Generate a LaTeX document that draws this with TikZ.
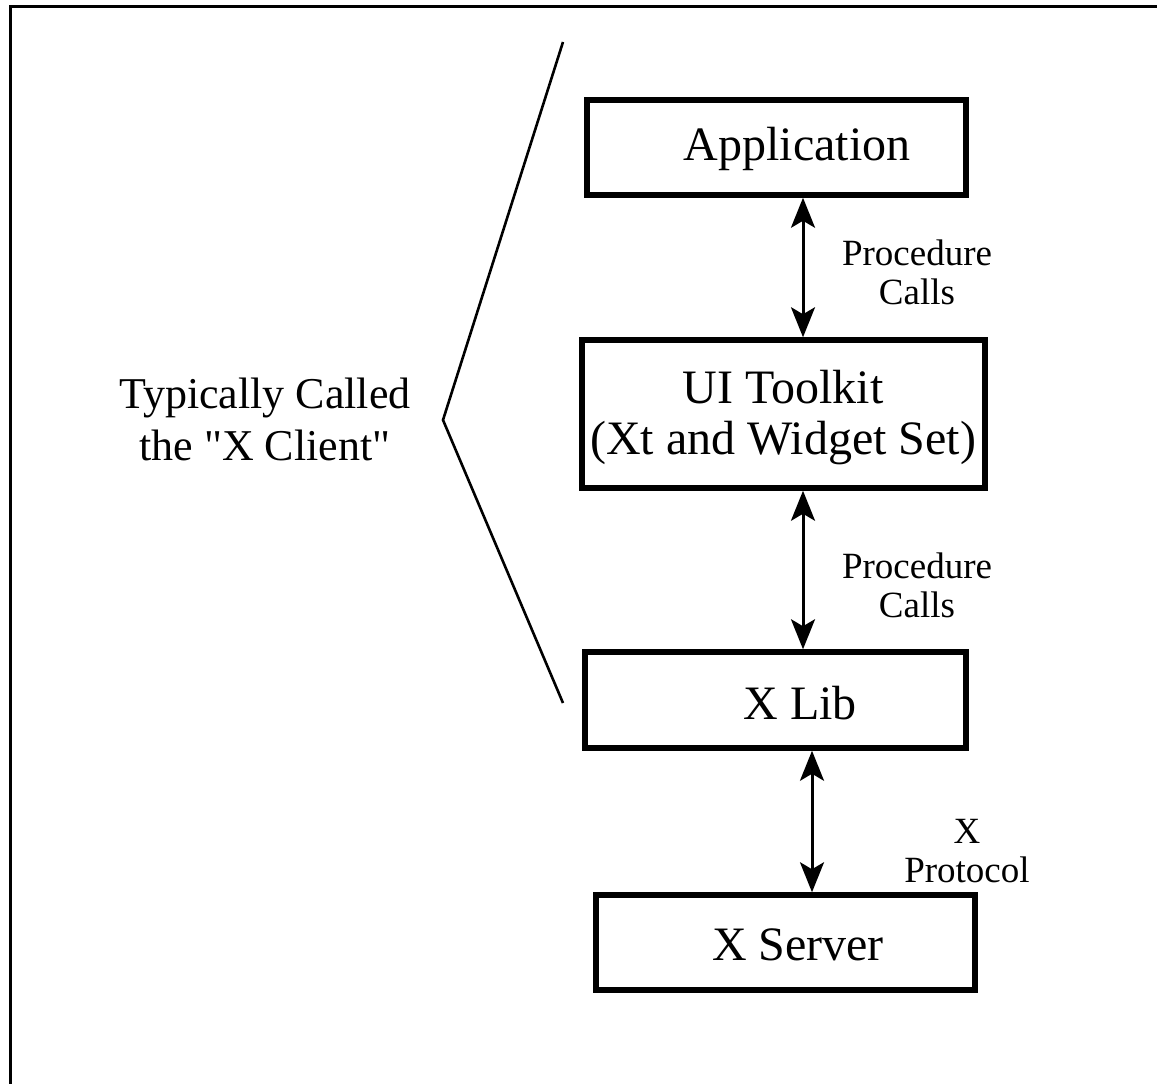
\documentclass[tikz,border=0pt]{standalone}
\usepackage{fontspec}
\setmainfont{Liberation Serif}[Ligatures=TeXOff]
\usetikzlibrary{arrows.meta}

\begin{document}
\begin{tikzpicture}[x=1pt,y=-1pt,
  layer/.style={draw, line width=5.5pt, inner sep=0pt},
  layertext/.style={align=center, inner sep=0pt, font=\fontsize{48}{51}\selectfont},
  callnote/.style={align=center, font=\fontsize{37}{39}\selectfont},
  dbl/.style={line width=3pt,
    {Stealth[length=30pt,width=24pt,inset=7pt]}-{Stealth[length=30pt,width=24pt,inset=7pt]}},
  brace/.style={line width=2.6pt}]

  % page area and the outer frame
  \useasboundingbox (0,0) rectangle (1157,1084);
  \draw[line width=3pt] (10,1084) -- (10,6) -- (1157,6);

  % the layers of the X client stack
  \node[layer, minimum width=379pt, minimum height=95pt]  (app)  at (776.5,147.5) {};
  \node[layer, minimum width=403pt, minimum height=148pt] (ui)   at (783.5,414)   {};
  \node[layer, minimum width=381pt, minimum height=96pt]  (xlib) at (775.5,700)   {};
  \node[layer, minimum width=379pt, minimum height=95pt]  (xsrv) at (785.5,942.5) {};

  \node[layertext] (appt)  at (797,149) {Application};
  \node[layertext] (uit)   at (783,418) {UI Toolkit\\(Xt and Widget Set)};
  \node[layertext] (xlibt) at (800,703) {X Lib};
  \node[layertext] (xsrvt) at (798,945) {X Server};

  % x positions of the connectors
  \coordinate (c1) at (803,0);
  \coordinate (c2) at (803,0);
  \coordinate (c3) at (812,0);

  \draw[dbl] (app.south -| c1) -- (ui.north -| c1);
  \draw[dbl] (ui.south -| c2) -- (xlib.north -| c2);
  \draw[dbl] (xlib.south -| c3) -- (xsrv.north -| c3);

  \node[callnote] (n1) at (917,272) {Procedure\\Calls};
  \node[callnote] (n2) at (917,585) {Procedure\\Calls};
  \node[callnote] (n3) at (967,851) {X\\Protocol};

  % bracket grouping the client layers
  \coordinate (bt) at (563,42);
  \coordinate (bv) at (443,420);
  \coordinate (bb) at (563,703);
  \draw[brace] (bt) -- (bv) -- (bb);

  \node[align=center, font=\fontsize{44}{52}\selectfont] (client) at (265,419)
    {Typically Called\\the "X Client"};
\end{tikzpicture}
\end{document}
